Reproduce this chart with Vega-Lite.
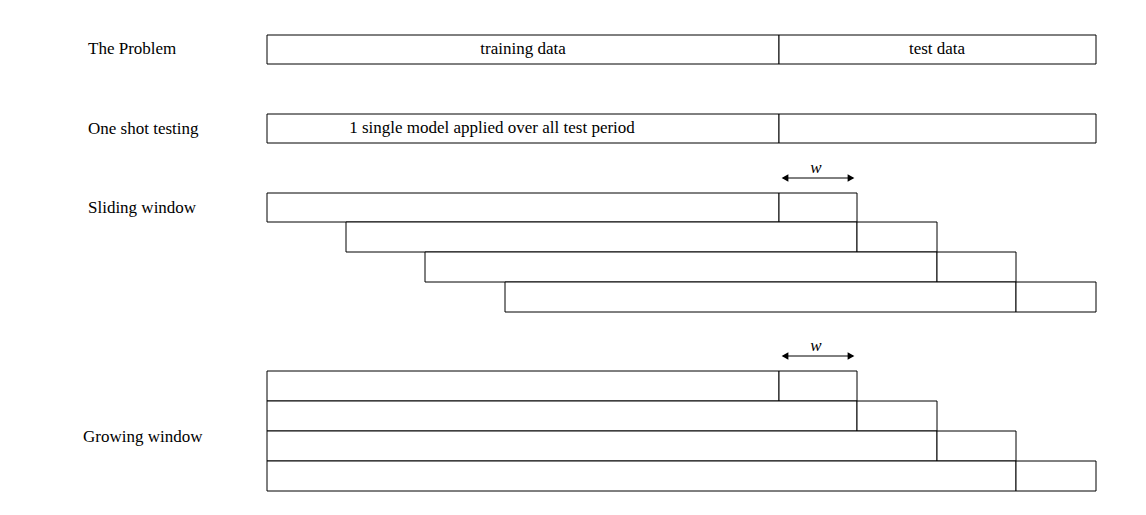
{
  "$schema": "https://vega.github.io/schema/vega-lite/v6.json",
  "width": 1146,
  "height": 515,
  "autosize": "none",
  "padding": 0,
  "background": "white",
  "config": {"view": {"stroke": null}},
  "layer": [
    {
      "data": {"values": [
        {"x0": 267, "x1": 779, "y0": 35, "y1": 64},
        {"x0": 779, "x1": 1096, "y0": 35, "y1": 64},
        {"x0": 267, "x1": 779, "y0": 114, "y1": 143},
        {"x0": 779, "x1": 1096, "y0": 114, "y1": 143},
        {"x0": 267, "x1": 779, "y0": 193, "y1": 222},
        {"x0": 779, "x1": 857, "y0": 193, "y1": 222},
        {"x0": 346, "x1": 857, "y0": 222, "y1": 252},
        {"x0": 857, "x1": 937, "y0": 222, "y1": 252},
        {"x0": 425, "x1": 937, "y0": 252, "y1": 282},
        {"x0": 937, "x1": 1016, "y0": 252, "y1": 282},
        {"x0": 505, "x1": 1016, "y0": 282, "y1": 312},
        {"x0": 1016, "x1": 1096, "y0": 282, "y1": 312},
        {"x0": 267, "x1": 779, "y0": 371, "y1": 401},
        {"x0": 779, "x1": 857, "y0": 371, "y1": 401},
        {"x0": 267, "x1": 857, "y0": 401, "y1": 431},
        {"x0": 857, "x1": 937, "y0": 401, "y1": 431},
        {"x0": 267, "x1": 937, "y0": 431, "y1": 461},
        {"x0": 937, "x1": 1016, "y0": 431, "y1": 461},
        {"x0": 267, "x1": 1016, "y0": 461, "y1": 491},
        {"x0": 1016, "x1": 1096, "y0": 461, "y1": 491}
      ]},
      "mark": {"type": "rect", "fill": "white", "stroke": "black", "strokeWidth": 1},
      "encoding": {
        "x": {"field": "x0", "type": "quantitative", "scale": {"domain": [0, 1146], "range": [0, 1146], "nice": false, "zero": false}, "axis": null},
        "x2": {"field": "x1"},
        "y": {"field": "y0", "type": "quantitative", "scale": {"domain": [0, 515], "range": [0, 515], "nice": false, "zero": false}, "axis": null},
        "y2": {"field": "y1"}
      }
    },
    {
      "data": {"values": [
        {"x0": 783, "x1": 853, "y": 178},
        {"x0": 783, "x1": 853, "y": 356}
      ]},
      "mark": {"type": "rule", "stroke": "black", "strokeWidth": 1},
      "encoding": {
        "x": {"field": "x0", "type": "quantitative", "scale": {"domain": [0, 1146], "range": [0, 1146], "nice": false, "zero": false}, "axis": null},
        "x2": {"field": "x1"},
        "y": {"field": "y", "type": "quantitative", "scale": {"domain": [0, 515], "range": [0, 515], "nice": false, "zero": false}, "axis": null}
      }
    },
    {
      "data": {"values": [
        {"x": 785, "y": 178, "s": "triangle-left"},
        {"x": 851, "y": 178, "s": "triangle-right"},
        {"x": 785, "y": 356, "s": "triangle-left"},
        {"x": 851, "y": 356, "s": "triangle-right"}
      ]},
      "mark": {"type": "point", "filled": true, "color": "black", "size": 60, "opacity": 1},
      "encoding": {
        "x": {"field": "x", "type": "quantitative", "scale": {"domain": [0, 1146], "range": [0, 1146], "nice": false, "zero": false}, "axis": null},
        "y": {"field": "y", "type": "quantitative", "scale": {"domain": [0, 515], "range": [0, 515], "nice": false, "zero": false}, "axis": null},
        "shape": {"field": "s", "type": "nominal", "scale": null, "legend": null}
      }
    },
    {
      "data": {"values": [
        {"x": 88, "y": 49, "t": "The Problem"},
        {"x": 88, "y": 129, "t": "One shot testing"},
        {"x": 88, "y": 208, "t": "Sliding window"},
        {"x": 83, "y": 437, "t": "Growing window"}
      ]},
      "mark": {"type": "text", "font": "Liberation Serif", "fontSize": 17, "baseline": "middle", "align": "left", "color": "black"},
      "encoding": {
        "x": {"field": "x", "type": "quantitative", "scale": {"domain": [0, 1146], "range": [0, 1146], "nice": false, "zero": false}, "axis": null},
        "y": {"field": "y", "type": "quantitative", "scale": {"domain": [0, 515], "range": [0, 515], "nice": false, "zero": false}, "axis": null},
        "text": {"field": "t"}
      }
    },
    {
      "data": {"values": [
        {"x": 523, "y": 49, "t": "training data"},
        {"x": 937, "y": 49, "t": "test data"},
        {"x": 492, "y": 128, "t": "1 single model applied over all test period"}
      ]},
      "mark": {"type": "text", "font": "Liberation Serif", "fontSize": 17, "baseline": "middle", "align": "center", "color": "black"},
      "encoding": {
        "x": {"field": "x", "type": "quantitative", "scale": {"domain": [0, 1146], "range": [0, 1146], "nice": false, "zero": false}, "axis": null},
        "y": {"field": "y", "type": "quantitative", "scale": {"domain": [0, 515], "range": [0, 515], "nice": false, "zero": false}, "axis": null},
        "text": {"field": "t"}
      }
    },
    {
      "data": {"values": [
        {"x": 816, "y": 168, "t": "w"},
        {"x": 816, "y": 346, "t": "w"}
      ]},
      "mark": {"type": "text", "font": "Liberation Serif", "fontSize": 17, "fontStyle": "italic", "baseline": "middle", "align": "center", "color": "black"},
      "encoding": {
        "x": {"field": "x", "type": "quantitative", "scale": {"domain": [0, 1146], "range": [0, 1146], "nice": false, "zero": false}, "axis": null},
        "y": {"field": "y", "type": "quantitative", "scale": {"domain": [0, 515], "range": [0, 515], "nice": false, "zero": false}, "axis": null},
        "text": {"field": "t"}
      }
    }
  ]
}
